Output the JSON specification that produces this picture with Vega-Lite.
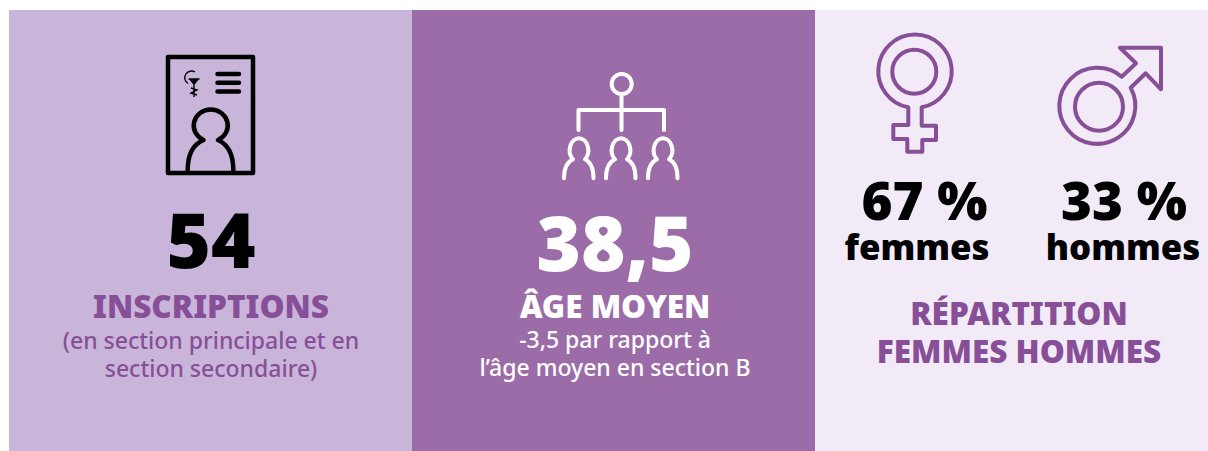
{"$schema":"https://vega.github.io/schema/vega-lite/v6.json","width":1208,"height":451,"autosize":{"type":"fit","contains":"padding"},"padding":0,"background":"#ffffff","view":{"stroke":null},
"encoding":{"x":{"field":"x","type":"quantitative","axis":null,"scale":{"domain":[0,1208],"nice":false,"zero":false}},"y":{"field":"y","type":"quantitative","axis":null,"scale":{"domain":[451,0],"nice":false,"zero":false}}},
"layer":[
{"data":{"values":[{"panneau":"inscriptions","x":9,"x2":412,"y":10,"y2":451,"couleur":"a"},{"panneau":"age","x":412,"x2":815,"y":10,"y2":451,"couleur":"b"},{"panneau":"repartition","x":815,"x2":1208,"y":10,"y2":451,"couleur":"c"}]},"mark":{"type":"rect"},"encoding":{"x2":{"field":"x2"},"y2":{"field":"y2"},"color":{"field":"couleur","type":"nominal","legend":null,"scale":{"domain":["a","b","c"],"range":["#c9b5da","#9c6ca9","#f2ebf7"]}}}},
{"data":{"values":[{"icone":"carte","x":210,"y":115}]},"mark":{"type":"point","filled":false,"opacity":1,"size":4,"stroke":"#000000","strokeWidth":4.5,"strokeJoin":"round","strokeCap":"round","shape":"M-42 -58L43 -58L43 58L-42 58Z M-6.5 25A17 16 0 1 1 8 25C17 29 23.3 38 23.3 55 M-6.5 25C-16 29 -22.3 38 -22.3 55 M7.5 -41L29 -41 M7.5 -32.3L29 -32.3 M7.5 -23.5L29 -23.5"}},
{"data":{"values":[{"icone":"caducee","x":210,"y":115}]},"mark":{"type":"point","filled":false,"opacity":1,"size":4,"stroke":"#000000","strokeWidth":1.4,"shape":"M-15 -43A6.5 6.5 0 1 0 -22 -31.5 M-21.5 -36L-10.5 -36 M-16 -30L-16 -18 M-19 -27L-13 -25L-19 -22L-13 -20"}},
{"data":{"values":[{"icone":"verre","x":210,"y":115}]},"mark":{"type":"point","filled":true,"opacity":1,"size":4,"color":"#000000","shape":"M-21 -36L-11 -36L-16 -29.5Z"}},
{"data":{"values":[{"icone":"organigramme","x":622,"y":125}]},"mark":{"type":"point","filled":false,"opacity":1,"size":4,"stroke":"#ffffff","strokeWidth":4,"strokeCap":"round","strokeJoin":"round","shape":"M-10.3 -41A10 10 0 1 0 9.7 -41A10 10 0 1 0 -10.3 -41Z M-0.5 -30L-0.5 5 M-43.5 5L-43.5 -15L42 -15L42 5 M-49 34.3A9.3 11.9 0 1 1 -37 34.3C-31 37 -28.5 44 -28.5 53.3 M-49 34.3C-55 37 -58 44 -58 53.3 M-7 34.3A9.3 11.9 0 1 1 5 34.3C11 37 13.5 44 13.5 53.3 M-7 34.3C-13 37 -16 44 -16 53.3 M35 34.3A9.3 11.9 0 1 1 47 34.3C53 37 55.5 44 55.5 53.3 M35 34.3C29 37 26 44 26 53.3"}},
{"data":{"values":[{"icone":"femme","x":915,"y":90}]},"mark":{"type":"point","filled":false,"opacity":1,"size":4,"stroke":"#874f97","strokeWidth":4,"strokeJoin":"round","shape":"M-6.7 17.3L-6.7 35L-21.7 35L-21.7 49L-7.7 49L-7.7 61.7L7.3 61.7L7.3 50L21 50L21 35.7L6.7 35.7L6.7 17.3A36.7 36.7 0 1 0 -6.7 17.3Z M-22.7 -18.3A22 22 0 1 0 21.3 -18.3A22 22 0 1 0 -22.7 -18.3Z"}},
{"data":{"values":[{"icone":"homme","x":1110,"y":100}]},"mark":{"type":"point","filled":false,"opacity":1,"size":4,"stroke":"#874f97","strokeWidth":4,"strokeJoin":"round","shape":"M11.7 -23.3L26 -36.7L10 -52.3L51 -52.3L51 -10.7L35.7 -26.7L20.7 -12.3A38 38 0 1 1 11.7 -23.3Z M-35 6.7A24 24 0 1 0 13 6.7A24 24 0 1 0 -35 6.7Z"}},
{"data":{"values":[{"texte":"54","x":211,"y":268}]},"mark":{"type":"text","font":"Noto Sans","fontWeight":900,"fontSize":76,"align":"center","baseline":"alphabetic","color":"#000000"},"encoding":{"text":{"field":"texte"}}},
{"data":{"values":[{"texte":"38,5","x":615,"y":271}]},"mark":{"type":"text","font":"Open Sans","fontWeight":800,"fontSize":76,"align":"center","baseline":"alphabetic","color":"#ffffff"},"encoding":{"text":{"field":"texte"}}},
{"data":{"values":[{"texte":"67 %","x":924.5,"y":220},{"texte":"33 %","x":1124,"y":220}]},"mark":{"type":"text","font":"Noto Sans","fontWeight":900,"fontSize":53,"align":"center","baseline":"alphabetic","color":"#000000"},"encoding":{"text":{"field":"texte"}}},
{"data":{"values":[{"texte":"femmes","x":917,"y":260},{"texte":"hommes","x":1123,"y":260}]},"mark":{"type":"text","font":"Noto Sans","fontWeight":900,"fontSize":34.8,"align":"center","baseline":"alphabetic","color":"#000000"},"encoding":{"text":{"field":"texte"}}},
{"data":{"values":[{"texte":"INSCRIPTIONS","x":211,"y":318},{"texte":"RÉPARTITION","x":1019,"y":325},{"texte":"FEMMES HOMMES","x":1019,"y":363}]},"mark":{"type":"text","font":"Noto Sans","fontWeight":900,"fontSize":31.5,"align":"center","baseline":"alphabetic","color":"#874f97"},"encoding":{"text":{"field":"texte"}}},
{"data":{"values":[{"texte":"(en section principale et en","x":211,"y":349},{"texte":"section secondaire)","x":211,"y":377}]},"mark":{"type":"text","font":"Noto Sans","fontWeight":500,"fontSize":23,"align":"center","baseline":"alphabetic","color":"#874f97"},"encoding":{"text":{"field":"texte"}}},
{"data":{"values":[{"texte":"ÂGE MOYEN","x":615,"y":318}]},"mark":{"type":"text","font":"Noto Sans","fontWeight":900,"fontSize":31.5,"align":"center","baseline":"alphabetic","color":"#ffffff"},"encoding":{"text":{"field":"texte"}}},
{"data":{"values":[{"texte":"-3,5 par rapport à","x":615,"y":348},{"texte":"l’âge moyen en section B","x":615,"y":376}]},"mark":{"type":"text","font":"Noto Sans","fontWeight":500,"fontSize":23,"align":"center","baseline":"alphabetic","color":"#ffffff"},"encoding":{"text":{"field":"texte"}}}
]}
